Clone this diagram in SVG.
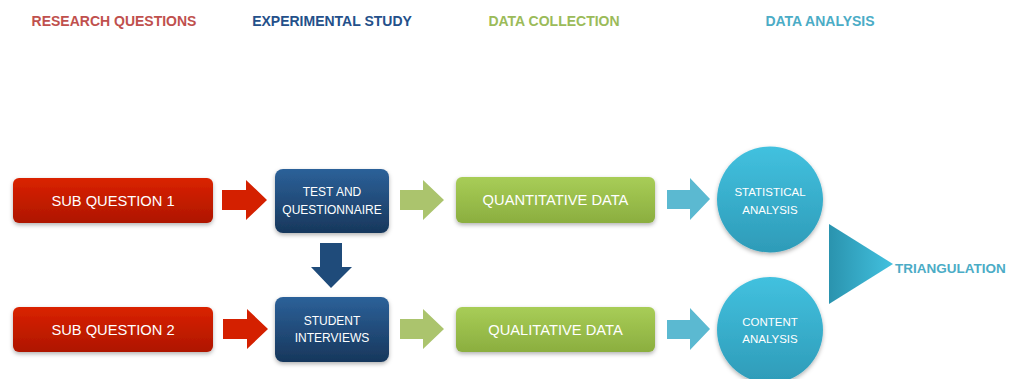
<svg xmlns="http://www.w3.org/2000/svg" width="1017" height="379" viewBox="0 0 1017 379">
  <defs>
    <linearGradient id="gRed" x1="0" y1="0" x2="0" y2="1">
      <stop offset="0" stop-color="#DA2200"/>
      <stop offset="1" stop-color="#AE1600"/>
    </linearGradient>
    <linearGradient id="gBlue" x1="0" y1="0" x2="0" y2="1">
      <stop offset="0" stop-color="#2C6199"/>
      <stop offset="1" stop-color="#17375C"/>
    </linearGradient>
    <linearGradient id="gGreen" x1="0" y1="0" x2="0" y2="1">
      <stop offset="0" stop-color="#A8CD57"/>
      <stop offset="1" stop-color="#8BAE3F"/>
    </linearGradient>
    <linearGradient id="gTeal" x1="0" y1="0" x2="0" y2="1">
      <stop offset="0" stop-color="#42C1DF"/>
      <stop offset="1" stop-color="#2E9BB8"/>
    </linearGradient>
    <linearGradient id="gTri" x1="0" y1="0" x2="1" y2="0">
      <stop offset="0" stop-color="#2A93AE"/>
      <stop offset="1" stop-color="#42C1DF"/>
    </linearGradient>
    <filter id="sh" x="-20%" y="-20%" width="140%" height="150%">
      <feDropShadow dx="0" dy="2" stdDeviation="2" flood-color="#000" flood-opacity="0.3"/>
    </filter>
  </defs>
  <style>
    .hdr { font-family: "Liberation Sans", Arial, sans-serif; font-weight: bold; font-size: 14px; text-anchor: middle; }
    .lbl { font-family: "Liberation Sans", Arial, sans-serif; fill: #FFFFFF; text-anchor: middle; }
    .big { font-size: 14.7px; }
    .mid { font-size: 12px; }
    .sml { font-size: 11.5px; }
    .red { fill: url(#gRed); filter: url(#sh); }
    .blue { fill: url(#gBlue); filter: url(#sh); }
    .green { fill: url(#gGreen); filter: url(#sh); }
    .teal { fill: url(#gTeal); filter: url(#sh); }
  </style>
  <rect width="1017" height="379" fill="#FFFFFF"/>

  <g id="headers">
    <text class="hdr" x="114" y="26" fill="#C0504D">RESEARCH QUESTIONS</text>
    <text class="hdr" x="332" y="26" fill="#24508A">EXPERIMENTAL STUDY</text>
    <text class="hdr" x="554" y="26" fill="#9BBB59">DATA COLLECTION</text>
    <text class="hdr" x="820" y="26" fill="#4BACC6">DATA ANALYSIS</text>
  </g>

  <g id="connectors">
    <polygon fill="#D42000" points="222,190 246,190 246,180 267,200 246,220 246,210 222,210"/>
    <polygon fill="#D42000" points="223,319 247,319 247,309 268,329 247,349 247,339 223,339"/>
    <polygon fill="#1F4B7A" points="320,243 342,243 342,267 352,267 331,288 311,267 320,267"/>
    <polygon fill="#ABC46D" points="400,190 423,190 423,180 444,200 423,220 423,210 400,210"/>
    <polygon fill="#ABC46D" points="400,319 423,319 423,309 444,329 423,349 423,339 400,339"/>
    <polygon fill="#5BB9D1" points="667,190 690,190 690,178 710,199 690,220 690,209 667,209"/>
    <polygon fill="#5BB9D1" points="667,320 690,320 690,308 710,329 690,350 690,339 667,339"/>
  </g>

  <g id="sub-question-1">
    <rect class="red" x="13" y="178" width="200" height="45" rx="6"/>
    <text class="lbl big" x="113" y="206">SUB QUESTION 1</text>
  </g>
  <g id="sub-question-2">
    <rect class="red" x="13" y="307" width="200" height="45" rx="6"/>
    <text class="lbl big" x="113" y="335">SUB QUESTION 2</text>
  </g>

  <g id="test-questionnaire">
    <rect class="blue" x="275" y="169" width="114" height="64" rx="8"/>
    <text class="lbl mid" x="332" y="196">TEST AND</text>
    <text class="lbl mid" x="332" y="214">QUESTIONNAIRE</text>
  </g>
  <g id="student-interviews">
    <rect class="blue" x="275" y="297" width="114" height="65" rx="8"/>
    <text class="lbl mid" x="332" y="325">STUDENT</text>
    <text class="lbl mid" x="332" y="342">INTERVIEWS</text>
  </g>

  <g id="quantitative-data">
    <rect class="green" x="456" y="177" width="199" height="46" rx="6"/>
    <text class="lbl big" x="555.5" y="205">QUANTITATIVE DATA</text>
  </g>
  <g id="qualitative-data">
    <rect class="green" x="456" y="307" width="199" height="45" rx="6"/>
    <text class="lbl big" x="555.5" y="335">QUALITATIVE DATA</text>
  </g>

  <g id="statistical-analysis">
    <circle class="teal" cx="770" cy="199.5" r="53"/>
    <text class="lbl sml" x="770" y="196">STATISTICAL</text>
    <text class="lbl sml" x="770" y="214">ANALYSIS</text>
  </g>
  <g id="content-analysis">
    <circle class="teal" cx="770" cy="330" r="53"/>
    <text class="lbl sml" x="770" y="326">CONTENT</text>
    <text class="lbl sml" x="770" y="343">ANALYSIS</text>
  </g>

  <g id="triangulation">
    <polygon fill="url(#gTri)" points="829,224 829,304 893,264"/>
    <text x="895" y="273" font-family="'Liberation Sans', Arial, sans-serif" font-weight="bold" font-size="13.5" fill="#4BACC6">TRIANGULATION</text>
  </g>
</svg>
